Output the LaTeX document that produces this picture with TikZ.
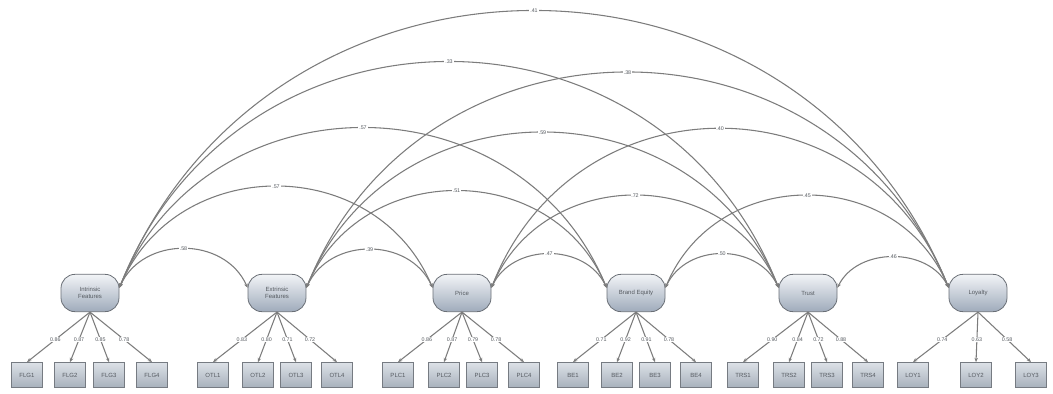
\documentclass[tikz,border=0pt]{standalone}
\usepackage{fontspec}
\setmainfont{Liberation Sans}
\usetikzlibrary{arrows.meta}
\definecolor{linegray}{HTML}{7C7C7C}
\definecolor{textgray}{HTML}{555A60}
\definecolor{latborder}{HTML}{6A6F76}
\definecolor{lattop}{HTML}{F2F4F7}
\definecolor{latbot}{HTML}{9FABBB}
\definecolor{itemborder}{HTML}{767B82}
\definecolor{itemtop}{HTML}{DCE1E7}
\definecolor{itembot}{HTML}{A8B1BC}
\begin{document}
\begin{tikzpicture}[x=0.75pt,y=-0.75pt,
  latent/.style={rounded corners=10.5pt, minimum width=43.5pt, minimum height=28pt,
    draw=latborder, line width=0.6pt, top color=lattop, bottom color=latbot,
    font=\fontsize{4.5}{5}\selectfont, text=textgray, align=center, inner sep=0pt},
  item/.style={minimum width=23.25pt, minimum height=18.75pt, draw=itemborder,
    line width=0.6pt, top color=itemtop, bottom color=itembot,
    font=\fontsize{4.5}{5}\selectfont, text=textgray, inner sep=0pt},
  tip/.tip={Stealth[length=3.2pt,width=2.6pt]},
  cov/.style={draw=linegray, line width=0.8pt, tip-tip},
  load/.style={draw=linegray, line width=0.8pt, -tip},
  val/.style={fill=white, inner sep=0.6pt, font=\fontsize{4}{4.5}\selectfont, text=textgray}
]
\useasboundingbox (0,0) rectangle (1053,393);

% latent factors
\node[latent] (L1) at (90,293)  {Intrinsic\\Features};
\node[latent] (L2) at (277,293) {Extrinsic\\Features};
\node[latent] (L3) at (462,293) {Price};
\node[latent] (L4) at (636,293) {Brand Equity};
\node[latent] (L5) at (808,293) {Trust};
\node[latent] (L6) at (978,293) {Loyalty};

% indicators
\foreach \n/\x in {FLG1/27, FLG2/70, FLG3/109, FLG4/152,
                   OTL1/213, OTL2/258, OTL3/296, OTL4/337,
                   PLC1/398, PLC2/444, PLC3/482, PLC4/524,
                   BE1/573, BE2/617, BE3/655, BE4/696,
                   TRS1/743, TRS2/789, TRS3/827, TRS4/868,
                   LOY1/913, LOY2/976, LOY3/1031}
  \node[item] (\n) at (\x,375) {\n};

% factor loadings
\foreach \f/\n/\v in {L1/FLG1/0.86, L1/FLG2/0.87, L1/FLG3/0.85, L1/FLG4/0.78,
                      L2/OTL1/0.83, L2/OTL2/0.80, L2/OTL3/0.71, L2/OTL4/0.72,
                      L3/PLC1/0.86, L3/PLC2/0.87, L3/PLC3/0.79, L3/PLC4/0.78,
                      L4/BE1/0.71, L4/BE2/0.92, L4/BE3/0.91, L4/BE4/0.78,
                      L5/TRS1/0.90, L5/TRS2/0.84, L5/TRS3/0.72, L5/TRS4/0.88,
                      L6/LOY1/0.74, L6/LOY2/0.63, L6/LOY3/0.58}
  \draw[load] (\f.south) -- (\n.north) node[val,pos=0.55] {\v};

% covariances between factors
\draw[cov] (L1.10) .. controls +(23,-52)  and +(-23,-52)  .. (L2.170) node[val,pos=0.5] {.58};
\draw[cov] (L1.10) .. controls +(57,-135) and +(-57,-135) .. (L3.170) node[val,pos=0.5] {.57};
\draw[cov] (L1.10) .. controls +(88,-213) and +(-88,-213) .. (L4.170) node[val,pos=0.5] {.57};
\draw[cov] (L1.10) .. controls +(119,-301) and +(-119,-301) .. (L5.170) node[val,pos=0.5] {.33};
\draw[cov] (L1.10) .. controls +(150,-369) and +(-150,-369) .. (L6.170) node[val,pos=0.5] {.41};
\draw[cov] (L2.10) .. controls +(23,-51)  and +(-23,-51)  .. (L3.170) node[val,pos=0.5] {.39};
\draw[cov] (L2.10) .. controls +(54,-129) and +(-54,-129) .. (L4.170) node[val,pos=0.5] {.51};
\draw[cov] (L2.10) .. controls +(85,-207) and +(-85,-207) .. (L5.170) node[val,pos=0.5] {.59};
\draw[cov] (L2.10) .. controls +(116,-287) and +(-116,-287) .. (L6.170) node[val,pos=0.5] {.38};
\draw[cov] (L3.10) .. controls +(21,-45)  and +(-21,-45)  .. (L4.170) node[val,pos=0.5] {.47};
\draw[cov] (L3.10) .. controls +(52,-123) and +(-52,-123) .. (L5.170) node[val,pos=0.5] {.72};
\draw[cov] (L3.10) .. controls +(83,-212) and +(-83,-212) .. (L6.170) node[val,pos=0.5] {.40};
\draw[cov] (L4.10) .. controls +(21,-45)  and +(-21,-45)  .. (L5.170) node[val,pos=0.5] {.50};
\draw[cov] (L4.10) .. controls +(51,-123) and +(-51,-123) .. (L6.170) node[val,pos=0.5] {.45};
\draw[cov] (L5.10) .. controls +(20,-41)  and +(-20,-41)  .. (L6.170) node[val,pos=0.5] {.46};
\end{tikzpicture}
\end{document}
